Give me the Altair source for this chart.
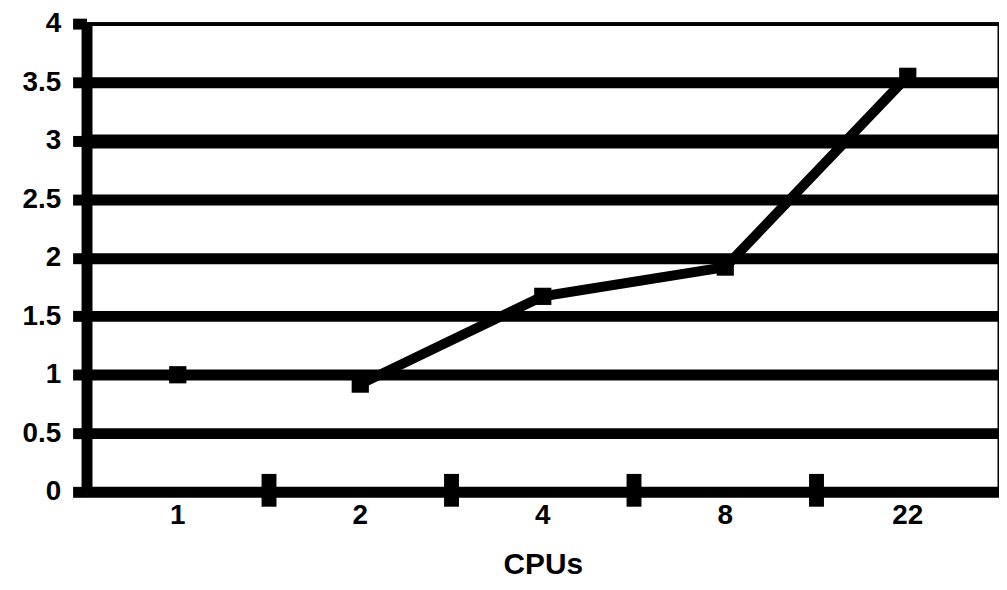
import altair as alt
import pandas as pd

cpus = ["1", "2", "4", "8", "22"]
speedup = [1.0, 0.92, 1.67, 1.92, 3.55]
connected = [False, True, True, True, True]
tick_boundaries = ["2", "4", "8", "22"]
y_ticks = [0, 0.5, 1, 1.5, 2, 2.5, 3, 3.5, 4]

df = pd.DataFrame({"cpus": cpus, "speedup": speedup, "connected": connected})
ticks_df = pd.DataFrame({"cpus": tick_boundaries})

FONT = "Liberation Sans"

x_enc = alt.X(
    "cpus:N",
    sort=cpus,
    scale=alt.Scale(domain=cpus, paddingInner=0, paddingOuter=0),
    title="CPUs",
    axis=alt.Axis(
        labelAngle=0,
        labelPadding=10,
        ticks=False,
        domain=False,
        titlePadding=20,
    ),
)
y_enc = alt.Y(
    "speedup:Q",
    scale=alt.Scale(domain=[0, 4], nice=False),
    title=None,
    axis=alt.Axis(
        values=y_ticks,
        format="~g",
        grid=True,
        gridColor="black",
        gridWidth={
            "condition": [
                {"test": "datum.value === 4", "value": 4},
                {"test": "datum.value === 3", "value": 14},
            ],
            "value": 11,
        },
        gridOpacity=1,
        domain=True,
        domainColor="black",
        domainWidth=11,
        tickColor="black",
        tickWidth=11,
        tickSize=14,
        labelPadding=12,
    ),
)

line = (
    alt.Chart(df)
    .transform_filter("datum.connected")
    .mark_line(color="black", strokeWidth=10)
    .encode(x=x_enc, y=y_enc)
)
points = (
    alt.Chart(df)
    .mark_point(shape="square", filled=True, color="black", size=300, opacity=1)
    .encode(x=x_enc, y=y_enc)
)
xticks = (
    alt.Chart(ticks_df)
    .mark_rule(color="black", strokeWidth=15)
    .encode(
        x=alt.X("cpus:N", sort=cpus, bandPosition=0),
        y=alt.value(453),
        y2=alt.value(486),
    )
)

chart = (
    alt.layer(line, points, xticks)
    .properties(
        width=918,
        height=471,
        autosize=alt.AutoSizeParams(type="none"),
        padding={"left": 79, "top": 14, "right": 0, "bottom": 88},
        background="white",
    )
    .configure_view(stroke="black", strokeWidth=3)
    .configure_axis(
        labelFont=FONT,
        labelFontSize=28,
        labelFontWeight="bold",
        labelColor="black",
        titleFont=FONT,
        titleFontSize=30,
        titleFontWeight="bold",
        titleColor="black",
    )
)

chart.save("out.html", embed_options={"renderer": "svg", "actions": False})
